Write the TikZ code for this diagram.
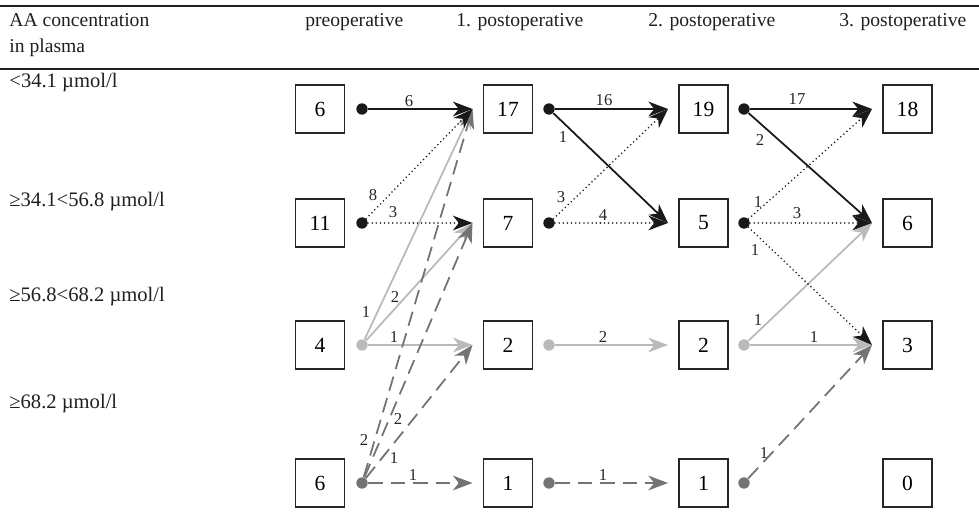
\documentclass[tikz,border=0pt]{standalone}
\usepackage{fontspec}
\setmainfont{Liberation Serif}
\usetikzlibrary{arrows.meta}

\begin{document}
\begin{tikzpicture}[
  x=0.51pt, y=-0.51pt,
  rule/.style={line width=1.2pt, draw=black!88},
  headtext/.style={font=\fontsize{10}{12}\selectfont, anchor=base west, inner sep=0pt, text=black!88},
  rowtext/.style={font=\fontsize{10.5}{12}\selectfont, anchor=base west, inner sep=0pt, text=black!88},
  countbox/.style={draw=black!85, line width=1pt, minimum width=25pt, minimum height=24.5pt, inner sep=0pt, font=\fontsize{11}{13}\selectfont},
  darkdot/.style={circle, fill=black!90, inner sep=0pt, minimum size=5.8pt},
  lightdot/.style={circle, fill=black!27, inner sep=0pt, minimum size=5.8pt},
  greydot/.style={circle, fill=black!55, inner sep=0pt, minimum size=5.8pt},
  elabel/.style={font=\fontsize{8.5}{10}\selectfont, inner sep=0pt, text=black!85},
  tip/.style={-{Stealth[length=10pt, width=7.5pt, inset=3pt]}},
  solidflow/.style={tip, draw=black!90, line width=0.9pt},
  dotflow/.style={tip, draw=black!90, line width=0.9pt, line cap=round, dash pattern=on 0pt off 2.1pt},
  lightflow/.style={tip, draw=black!27, line width=0.9pt},
  dashflow/.style={tip, draw=black!55, line width=0.9pt, dash pattern=on 7.5pt off 4pt}
]
  \useasboundingbox (0,0) rectangle (979,512);

  % table head
  \draw[rule] (0,6) -- (979,6);
  \draw[rule] (0,69) -- (979,69);
  \node[headtext] (h0) at (9,27) {AA concentration};
  \node[headtext] (h0b) at (9,53) {in plasma};
  \node[headtext] (h1) at (305,27) {preoperative};
  \node[headtext] (h2) at (456,27) {1. postoperative};
  \node[headtext] (h3) at (648,27) {2. postoperative};
  \node[headtext] (h4) at (839,27) {3. postoperative};

  % concentration classes
  \node[rowtext] (r1) at (9,88) {<34.1 µmol/l};
  \node[rowtext] (r2) at (9,207) {≥34.1<56.8 µmol/l};
  \node[rowtext] (r3) at (9,302) {≥56.8<68.2 µmol/l};
  \node[rowtext] (r4) at (9,408) {≥68.2 µmol/l};

  % counts
  \node[countbox] (b11) at (320,109) {6};
  \node[countbox] (b12) at (320,223) {11};
  \node[countbox] (b13) at (320,345) {4};
  \node[countbox] (b14) at (320,483) {6};
  \node[countbox] (b21) at (508,109) {17};
  \node[countbox] (b22) at (508,223) {7};
  \node[countbox] (b23) at (508,345) {2};
  \node[countbox] (b24) at (508,483) {1};
  \node[countbox] (b31) at (703.5,109) {19};
  \node[countbox] (b32) at (703.5,223) {5};
  \node[countbox] (b33) at (703.5,345) {2};
  \node[countbox] (b34) at (703.5,483) {1};
  \node[countbox] (b41) at (907.5,109) {18};
  \node[countbox] (b42) at (907.5,223) {6};
  \node[countbox] (b43) at (907.5,345) {3};
  \node[countbox] (b44) at (907.5,483) {0};

  % arrow targets
  \coordinate (t21) at ([xshift=-5.1pt]b21.west);
  \coordinate (t22) at ([xshift=-5.1pt]b22.west);
  \coordinate (t23) at ([xshift=-5.1pt]b23.west);
  \coordinate (t24) at ([xshift=-5.1pt]b24.west);
  \coordinate (t31) at ([xshift=-5.1pt]b31.west);
  \coordinate (t32) at ([xshift=-5.1pt]b32.west);
  \coordinate (t33) at ([xshift=-5.1pt]b33.west);
  \coordinate (t34) at ([xshift=-5.1pt]b34.west);
  \coordinate (t41) at ([xshift=-5.1pt]b41.west);
  \coordinate (t42) at ([xshift=-5.1pt]b42.west);
  \coordinate (t43) at ([xshift=-5.1pt]b43.west);

  % sources
  \node[darkdot] (d11) at (362,109) {};
  \node[darkdot] (d12) at (362,223) {};
  \node[lightdot] (d13) at (362,345) {};
  \node[greydot] (d14) at (362,483) {};
  \node[darkdot] (d21) at (549,109) {};
  \node[darkdot] (d22) at (549,223) {};
  \node[lightdot] (d23) at (549,345) {};
  \node[greydot] (d24) at (549,483) {};
  \node[darkdot] (d31) at (744,109) {};
  \node[darkdot] (d32) at (744,223) {};
  \node[lightdot] (d33) at (744,345) {};
  \node[greydot] (d34) at (744,483) {};

  % preoperative -> 1. postoperative
  \draw[lightflow] (d13) -- (t21);
  \draw[lightflow] (d13) -- (t22);
  \draw[lightflow] (d13) -- (t23);
  \draw[dashflow] (d14) -- (t21);
  \draw[dashflow] (d14) -- (t22);
  \draw[dashflow] (d14) -- (t23);
  \draw[dashflow] (d14) -- (t24);
  \draw[dotflow] (d12) -- (t21);
  \draw[dotflow] (d12) -- (t22);
  \draw[solidflow] (d11) -- (t21);

  % 1. -> 2. postoperative
  \draw[lightflow] (d23) -- (t33);
  \draw[dashflow] (d24) -- (t34);
  \draw[dotflow] (d22) -- (t31);
  \draw[dotflow] (d22) -- (t32);
  \draw[solidflow] (d21) -- (t31);
  \draw[solidflow] (d21) -- (t32);

  % 2. -> 3. postoperative
  \draw[lightflow] (d33) -- (t42);
  \draw[lightflow] (d33) -- (t43);
  \draw[dashflow] (d34) -- (t43);
  \draw[dotflow] (d32) -- (t41);
  \draw[dotflow] (d32) -- (t42);
  \draw[dotflow] (d32) -- (t43);
  \draw[solidflow] (d31) -- (t41);
  \draw[solidflow] (d31) -- (t42);

  % patient numbers
  \node[elabel] (n1) at (409,101) {6};
  \node[elabel] (n2) at (373,195) {8};
  \node[elabel] (n3) at (393,212) {3};
  \node[elabel] (n4) at (366,312) {1};
  \node[elabel] (n5) at (395,297) {2};
  \node[elabel] (n6) at (394,337) {1};
  \node[elabel] (n7) at (364,440) {2};
  \node[elabel] (n8) at (398,419) {2};
  \node[elabel] (n9) at (394,458) {1};
  \node[elabel] (n10) at (413,475) {1};
  \node[elabel] (n11) at (604,100) {16};
  \node[elabel] (n12) at (563,137) {1};
  \node[elabel] (n13) at (561,197) {3};
  \node[elabel] (n14) at (603,215) {4};
  \node[elabel] (n15) at (603,337) {2};
  \node[elabel] (n16) at (603,475) {1};
  \node[elabel] (n17) at (797,99) {17};
  \node[elabel] (n18) at (760,140) {2};
  \node[elabel] (n19) at (758,202) {1};
  \node[elabel] (n20) at (797,213) {3};
  \node[elabel] (n21) at (755,250) {1};
  \node[elabel] (n22) at (758,320) {1};
  \node[elabel] (n23) at (814,337) {1};
  \node[elabel] (n24) at (764,453) {1};
\end{tikzpicture}
\end{document}
